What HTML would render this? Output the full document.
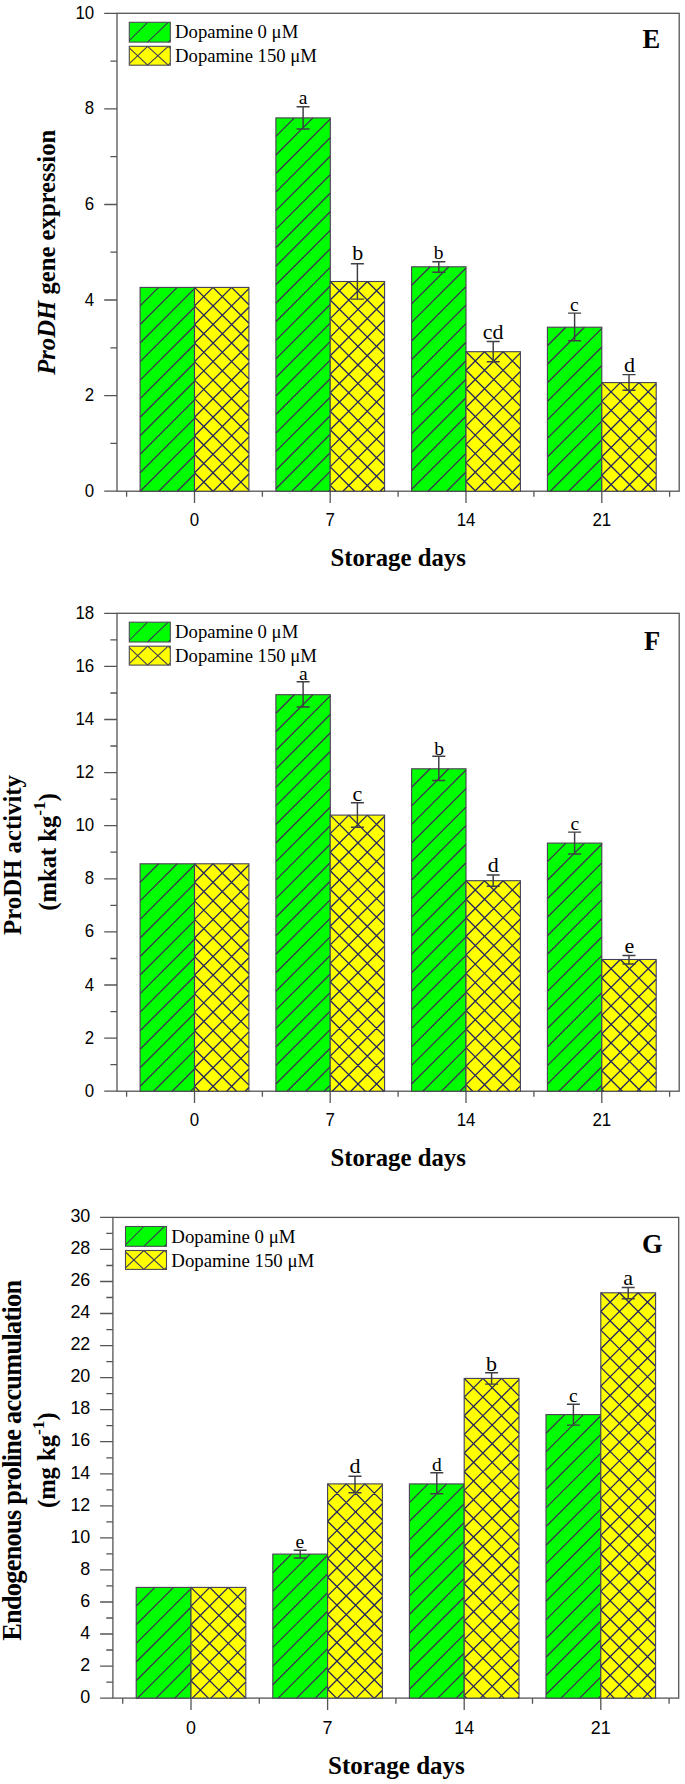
<!DOCTYPE html>
<html><head><meta charset="utf-8"><title>Figure</title>
<style>
html,body{margin:0;padding:0;background:#fff;}
body{width:685px;height:1784px;overflow:hidden;}
svg{display:block;}
text{font-family:"Liberation Serif",serif;fill:#000;}
.tl{font-family:"Liberation Sans",sans-serif;font-size:19.05px;}
.lg{font-size:18.7px;}
.lt{font-size:19.5px;text-anchor:middle;}
.pl{font-size:26.5px;font-weight:bold;}
.at{font-size:24.6px;font-weight:bold;}
</style></head><body>
<svg width="685" height="1784" viewBox="0 0 685 1784">
<rect width="685" height="1784" fill="#fff"/>
<rect x="117.0" y="13.3" width="562.2" height="477.9" fill="none" stroke="#555555" stroke-width="1.3"/>
<text transform="translate(94.2 496.7) scale(0.885 1)" class="tl" text-anchor="end">0</text>
<text transform="translate(94.2 401.1) scale(0.885 1)" class="tl" text-anchor="end">2</text>
<text transform="translate(94.2 305.5) scale(0.885 1)" class="tl" text-anchor="end">4</text>
<text transform="translate(94.2 210.0) scale(0.885 1)" class="tl" text-anchor="end">6</text>
<text transform="translate(94.2 114.4) scale(0.885 1)" class="tl" text-anchor="end">8</text>
<text transform="translate(94.2 18.8) scale(0.885 1)" class="tl" text-anchor="end">10</text>
<text transform="translate(194.5 526.3) scale(0.885 1)" class="tl" text-anchor="middle">0</text>
<text transform="translate(330.2 526.3) scale(0.885 1)" class="tl" text-anchor="middle">7</text>
<text transform="translate(466.0 526.3) scale(0.885 1)" class="tl" text-anchor="middle">14</text>
<text transform="translate(601.8 526.3) scale(0.885 1)" class="tl" text-anchor="middle">21</text>
<path d="M104.2 491.2H117.0M110.4 443.4H117.0M104.2 395.6H117.0M110.4 347.8H117.0M104.2 300.0H117.0M110.4 252.2H117.0M104.2 204.5H117.0M110.4 156.7H117.0M104.2 108.9H117.0M110.4 61.1H117.0M104.2 13.3H117.0M194.5 491.2V503.0M330.2 491.2V503.0M466.0 491.2V503.0M601.8 491.2V503.0M126.6 491.2V496.8M262.4 491.2V496.8M398.1 491.2V496.8M533.9 491.2V496.8M669.6 491.2V496.8" stroke="#555555" stroke-width="1.3" fill="none"/>
<rect x="140.1" y="287.4" width="54.4" height="203.8" fill="#00ff00"/>
<path d="M140.1 305.9L158.6 287.4M140.1 324.5L177.2 287.4M140.1 343.0L194.5 288.6M140.1 361.6L194.5 307.2M140.1 380.1L194.5 325.7M140.1 398.6L194.5 344.2M140.1 417.2L194.5 362.8M140.1 435.7L194.5 381.3M140.1 454.3L194.5 399.9M140.1 472.8L194.5 418.4M140.2 491.2L194.5 436.9M158.8 491.2L194.5 455.5M177.3 491.2L194.5 474.0" stroke="#412f54" stroke-width="1.3" fill="none"/>
<rect x="140.1" y="287.4" width="54.4" height="203.8" fill="none" stroke="#4b3d55" stroke-width="1.1"/>
<rect x="194.5" y="287.4" width="54.4" height="203.8" fill="#ffff00"/>
<path d="M194.5 305.9L213.0 287.4M194.5 324.5L231.6 287.4M194.5 343.0L248.9 288.6M194.5 361.6L248.9 307.2M194.5 380.1L248.9 325.7M194.5 398.6L248.9 344.2M194.5 417.2L248.9 362.8M194.5 435.7L248.9 381.3M194.5 454.3L248.9 399.9M194.5 472.8L248.9 418.4M194.6 491.2L248.9 436.9M213.2 491.2L248.9 455.5M231.7 491.2L248.9 474.0M194.5 472.8L212.9 491.2M194.5 454.3L231.4 491.2M194.5 435.7L248.9 490.1M194.5 417.2L248.9 471.6M194.5 398.6L248.9 453.0M194.5 380.1L248.9 434.5M194.5 361.6L248.9 416.0M194.5 343.0L248.9 397.4M194.5 324.5L248.9 378.9M194.5 305.9L248.9 360.3M194.5 287.4L248.9 341.8M213.0 287.4L248.9 323.3M231.6 287.4L248.9 304.7" stroke="#24245f" stroke-width="1.3" fill="none"/>
<rect x="194.5" y="287.4" width="54.4" height="203.8" fill="none" stroke="#3f3f5c" stroke-width="1.1"/>
<rect x="275.9" y="117.9" width="54.4" height="373.3" fill="#00ff00"/>
<path d="M275.9 136.4L294.4 117.9M275.9 155.0L312.9 117.9M275.9 173.5L330.2 119.1M275.9 192.1L330.2 137.7M275.9 210.6L330.2 156.2M275.9 229.1L330.2 174.7M275.9 247.7L330.2 193.3M275.9 266.2L330.2 211.8M275.9 284.8L330.2 230.4M275.9 303.3L330.2 248.9M275.9 321.8L330.2 267.4M275.9 340.4L330.2 286.0M275.9 358.9L330.2 304.5M275.9 377.5L330.2 323.1M275.9 396.0L330.2 341.6M275.9 414.5L330.2 360.1M275.9 433.1L330.2 378.7M275.9 451.6L330.2 397.2M275.9 470.2L330.2 415.8M275.9 488.7L330.2 434.3M291.9 491.2L330.2 452.8M310.4 491.2L330.2 471.4M329.0 491.2L330.2 489.9" stroke="#412f54" stroke-width="1.3" fill="none"/>
<rect x="275.9" y="117.9" width="54.4" height="373.3" fill="none" stroke="#4b3d55" stroke-width="1.1"/>
<rect x="330.2" y="281.5" width="54.4" height="209.7" fill="#ffff00"/>
<path d="M330.2 300.0L348.8 281.5M330.2 318.6L367.3 281.5M330.2 337.1L384.6 282.7M330.2 355.7L384.6 301.3M330.2 374.2L384.6 319.8M330.2 392.7L384.6 338.3M330.2 411.3L384.6 356.9M330.2 429.8L384.6 375.4M330.2 448.4L384.6 394.0M330.2 466.9L384.6 412.5M330.2 485.4L384.6 431.0M343.0 491.2L384.6 449.6M361.6 491.2L384.6 468.1M380.1 491.2L384.6 486.7M330.2 485.4L336.0 491.2M330.2 466.9L354.6 491.2M330.2 448.4L373.1 491.2M330.2 429.8L384.6 484.2M330.2 411.3L384.6 465.7M330.2 392.7L384.6 447.1M330.2 374.2L384.6 428.6M330.2 355.7L384.6 410.1M330.2 337.1L384.6 391.5M330.2 318.6L384.6 373.0M330.2 300.0L384.6 354.4M330.2 281.5L384.6 335.9M348.8 281.5L384.6 317.4M367.3 281.5L384.6 298.8" stroke="#24245f" stroke-width="1.3" fill="none"/>
<rect x="330.2" y="281.5" width="54.4" height="209.7" fill="none" stroke="#3f3f5c" stroke-width="1.1"/>
<rect x="411.6" y="266.8" width="54.4" height="224.4" fill="#00ff00"/>
<path d="M411.6 285.3L430.1 266.8M411.6 303.9L448.7 266.8M411.6 322.4L466.0 268.0M411.6 341.0L466.0 286.6M411.6 359.5L466.0 305.1M411.6 378.0L466.0 323.6M411.6 396.6L466.0 342.2M411.6 415.1L466.0 360.7M411.6 433.7L466.0 379.3M411.6 452.2L466.0 397.8M411.6 470.7L466.0 416.3M411.6 489.3L466.0 434.9M428.2 491.2L466.0 453.4M446.8 491.2L466.0 472.0M465.3 491.2L466.0 490.5" stroke="#412f54" stroke-width="1.3" fill="none"/>
<rect x="411.6" y="266.8" width="54.4" height="224.4" fill="none" stroke="#4b3d55" stroke-width="1.1"/>
<rect x="466.0" y="351.7" width="54.4" height="139.5" fill="#ffff00"/>
<path d="M466.0 370.2L484.5 351.7M466.0 388.8L503.1 351.7M466.0 407.3L520.4 352.9M466.0 425.9L520.4 371.5M466.0 444.4L520.4 390.0M466.0 462.9L520.4 408.5M466.0 481.5L520.4 427.1M474.8 491.2L520.4 445.6M493.4 491.2L520.4 464.2M511.9 491.2L520.4 482.7M466.0 481.5L475.7 491.2M466.0 462.9L494.3 491.2M466.0 444.4L512.8 491.2M466.0 425.9L520.4 480.3M466.0 407.3L520.4 461.7M466.0 388.8L520.4 443.2M466.0 370.2L520.4 424.6M466.0 351.7L520.4 406.1M484.5 351.7L520.4 387.6M503.1 351.7L520.4 369.0" stroke="#24245f" stroke-width="1.3" fill="none"/>
<rect x="466.0" y="351.7" width="54.4" height="139.5" fill="none" stroke="#3f3f5c" stroke-width="1.1"/>
<rect x="547.4" y="327.2" width="54.4" height="164.0" fill="#00ff00"/>
<path d="M547.4 345.7L565.9 327.2M547.4 364.3L584.5 327.2M547.4 382.8L601.8 328.4M547.4 401.4L601.8 347.0M547.4 419.9L601.8 365.5M547.4 438.4L601.8 384.0M547.4 457.0L601.8 402.6M547.4 475.5L601.8 421.1M550.3 491.2L601.8 439.7M568.8 491.2L601.8 458.2M587.3 491.2L601.8 476.7" stroke="#412f54" stroke-width="1.3" fill="none"/>
<rect x="547.4" y="327.2" width="54.4" height="164.0" fill="none" stroke="#4b3d55" stroke-width="1.1"/>
<rect x="601.8" y="382.6" width="54.4" height="108.6" fill="#ffff00"/>
<path d="M601.8 401.1L620.3 382.6M601.8 419.7L638.9 382.6M601.8 438.2L656.2 383.8M601.8 456.8L656.2 402.4M601.8 475.3L656.2 420.9M604.4 491.2L656.2 439.4M623.0 491.2L656.2 458.0M641.5 491.2L656.2 476.5M601.8 475.3L617.7 491.2M601.8 456.8L636.2 491.2M601.8 438.2L654.8 491.2M601.8 419.7L656.2 474.1M601.8 401.1L656.2 455.5M601.8 382.6L656.2 437.0M620.3 382.6L656.2 418.5M638.9 382.6L656.2 399.9" stroke="#24245f" stroke-width="1.3" fill="none"/>
<rect x="601.8" y="382.6" width="54.4" height="108.6" fill="none" stroke="#3f3f5c" stroke-width="1.1"/>
<path d="M303.1 106.8V129.0" stroke="#3c3c42" stroke-width="1.45" fill="none"/>
<path d="M296.6 106.8H309.6M296.6 129.0H309.6" stroke="#3e3e44" stroke-width="1.45" fill="none"/>
<text x="303.2" y="104.4" class="lt">a</text>
<path d="M357.4 263.7V299.1" stroke="#3c3c42" stroke-width="1.45" fill="none"/>
<path d="M350.9 263.7H363.9M350.9 299.1H363.9" stroke="#3e3e44" stroke-width="1.45" fill="none"/>
<text x="357.8" y="260.3" class="lt" style="font-size:22px">b</text>
<path d="M438.8 261.7V272.3" stroke="#3c3c42" stroke-width="1.45" fill="none"/>
<path d="M432.3 261.7H445.3M432.3 272.3H445.3" stroke="#3e3e44" stroke-width="1.45" fill="none"/>
<text x="438.5" y="258.7" class="lt">b</text>
<path d="M493.2 341.5V361.7" stroke="#3c3c42" stroke-width="1.45" fill="none"/>
<path d="M486.7 341.5H499.7M486.7 361.7H499.7" stroke="#3e3e44" stroke-width="1.45" fill="none"/>
<text x="493.2" y="338.7" class="lt" style="font-size:22px">cd</text>
<path d="M574.6 313.1V340.7" stroke="#3c3c42" stroke-width="1.45" fill="none"/>
<path d="M568.1 313.1H581.1M568.1 340.7H581.1" stroke="#3e3e44" stroke-width="1.45" fill="none"/>
<text x="574.4" y="311.3" class="lt">c</text>
<path d="M629.0 374.6V390.3" stroke="#3c3c42" stroke-width="1.45" fill="none"/>
<path d="M622.5 374.6H635.5M622.5 390.3H635.5" stroke="#3e3e44" stroke-width="1.45" fill="none"/>
<text x="629.4" y="371.6" class="lt" style="font-size:22px">d</text>
<rect x="129.3" y="22.3" width="41" height="19.8" fill="#00ff00"/>
<path d="M129.3 40.6L147.6 22.3M147.6 42.1L168.2 22.3M168.2 42.1L170.3 40.0" stroke="#3b3858" stroke-width="1.05" fill="none"/>
<rect x="129.3" y="22.3" width="41" height="19.8" fill="none" stroke="#4a4a55" stroke-width="1.1"/>
<text x="175.1" y="38.3" class="lg" style="font-size:18.70px">Dopamine 0 μM</text>
<rect x="129.3" y="46.3" width="41" height="18.9" fill="#ffff00"/>
<path d="M129.3 63.7L147.6 46.3M147.6 65.2L168.2 46.3M168.2 65.2L170.3 63.1M129.3 47.8L147.6 65.2M147.6 46.3L168.2 65.2M168.2 46.3L170.3 48.4" stroke="#3b3858" stroke-width="1.05" fill="none"/>
<rect x="129.3" y="46.3" width="41" height="18.9" fill="none" stroke="#4a4a55" stroke-width="1.1"/>
<text x="175.1" y="62.3" class="lg" style="font-size:18.70px">Dopamine 150 μM</text>
<text x="651.3" y="47.8" class="pl" text-anchor="middle">E</text>
<text x="398.1" y="565.7" class="at" text-anchor="middle" style="font-size:24.75px">Storage days</text>
<text transform="translate(54.50 252.30) rotate(-90)" class="at" text-anchor="middle" style="font-size:24.7px"><tspan font-style="italic">ProDH</tspan> gene expression</text>
<rect x="117.0" y="613.3" width="562.2" height="477.9" fill="none" stroke="#555555" stroke-width="1.3"/>
<text transform="translate(94.2 1096.7) scale(0.885 1)" class="tl" text-anchor="end">0</text>
<text transform="translate(94.2 1043.6) scale(0.885 1)" class="tl" text-anchor="end">2</text>
<text transform="translate(94.2 990.5) scale(0.885 1)" class="tl" text-anchor="end">4</text>
<text transform="translate(94.2 937.4) scale(0.885 1)" class="tl" text-anchor="end">6</text>
<text transform="translate(94.2 884.3) scale(0.885 1)" class="tl" text-anchor="end">8</text>
<text transform="translate(94.2 831.2) scale(0.885 1)" class="tl" text-anchor="end">10</text>
<text transform="translate(94.2 778.1) scale(0.885 1)" class="tl" text-anchor="end">12</text>
<text transform="translate(94.2 725.0) scale(0.885 1)" class="tl" text-anchor="end">14</text>
<text transform="translate(94.2 671.9) scale(0.885 1)" class="tl" text-anchor="end">16</text>
<text transform="translate(94.2 618.8) scale(0.885 1)" class="tl" text-anchor="end">18</text>
<text transform="translate(194.5 1126.3) scale(0.885 1)" class="tl" text-anchor="middle">0</text>
<text transform="translate(330.2 1126.3) scale(0.885 1)" class="tl" text-anchor="middle">7</text>
<text transform="translate(466.0 1126.3) scale(0.885 1)" class="tl" text-anchor="middle">14</text>
<text transform="translate(601.8 1126.3) scale(0.885 1)" class="tl" text-anchor="middle">21</text>
<path d="M104.2 1091.2H117.0M110.4 1064.7H117.0M104.2 1038.1H117.0M110.4 1011.6H117.0M104.2 985.0H117.0M110.4 958.5H117.0M104.2 931.9H117.0M110.4 905.4H117.0M104.2 878.8H117.0M110.4 852.2H117.0M104.2 825.7H117.0M110.4 799.2H117.0M104.2 772.6H117.0M110.4 746.0H117.0M104.2 719.5H117.0M110.4 693.0H117.0M104.2 666.4H117.0M110.4 639.9H117.0M104.2 613.3H117.0M194.5 1091.2V1103.0M330.2 1091.2V1103.0M466.0 1091.2V1103.0M601.8 1091.2V1103.0M126.6 1091.2V1096.8M262.4 1091.2V1096.8M398.1 1091.2V1096.8M533.9 1091.2V1096.8M669.6 1091.2V1096.8" stroke="#555555" stroke-width="1.3" fill="none"/>
<rect x="140.1" y="863.8" width="54.4" height="227.4" fill="#00ff00"/>
<path d="M140.1 882.3L158.6 863.8M140.1 900.9L177.2 863.8M140.1 919.4L194.5 865.0M140.1 938.0L194.5 883.6M140.1 956.5L194.5 902.1M140.1 975.0L194.5 920.6M140.1 993.6L194.5 939.2M140.1 1012.1L194.5 957.7M140.1 1030.7L194.5 976.3M140.1 1049.2L194.5 994.8M140.1 1067.7L194.5 1013.3M140.1 1086.3L194.5 1031.9M153.7 1091.2L194.5 1050.4M172.3 1091.2L194.5 1069.0M190.8 1091.2L194.5 1087.5" stroke="#412f54" stroke-width="1.3" fill="none"/>
<rect x="140.1" y="863.8" width="54.4" height="227.4" fill="none" stroke="#4b3d55" stroke-width="1.1"/>
<rect x="194.5" y="863.8" width="54.4" height="227.4" fill="#ffff00"/>
<path d="M194.5 882.3L213.0 863.8M194.5 900.9L231.6 863.8M194.5 919.4L248.9 865.0M194.5 938.0L248.9 883.6M194.5 956.5L248.9 902.1M194.5 975.0L248.9 920.6M194.5 993.6L248.9 939.2M194.5 1012.1L248.9 957.7M194.5 1030.7L248.9 976.3M194.5 1049.2L248.9 994.8M194.5 1067.7L248.9 1013.3M194.5 1086.3L248.9 1031.9M208.1 1091.2L248.9 1050.4M226.7 1091.2L248.9 1069.0M245.2 1091.2L248.9 1087.5M194.5 1086.3L199.4 1091.2M194.5 1067.7L218.0 1091.2M194.5 1049.2L236.5 1091.2M194.5 1030.7L248.9 1085.1M194.5 1012.1L248.9 1066.5M194.5 993.6L248.9 1048.0M194.5 975.0L248.9 1029.4M194.5 956.5L248.9 1010.9M194.5 938.0L248.9 992.4M194.5 919.4L248.9 973.8M194.5 900.9L248.9 955.3M194.5 882.3L248.9 936.7M194.5 863.8L248.9 918.2M213.0 863.8L248.9 899.7M231.6 863.8L248.9 881.1" stroke="#24245f" stroke-width="1.3" fill="none"/>
<rect x="194.5" y="863.8" width="54.4" height="227.4" fill="none" stroke="#3f3f5c" stroke-width="1.1"/>
<rect x="275.9" y="694.7" width="54.4" height="396.5" fill="#00ff00"/>
<path d="M275.9 713.2L294.4 694.7M275.9 731.8L312.9 694.7M275.9 750.3L330.2 695.9M275.9 768.9L330.2 714.5M275.9 787.4L330.2 733.0M275.9 805.9L330.2 751.5M275.9 824.5L330.2 770.1M275.9 843.0L330.2 788.6M275.9 861.6L330.2 807.2M275.9 880.1L330.2 825.7M275.9 898.6L330.2 844.2M275.9 917.2L330.2 862.8M275.9 935.7L330.2 881.3M275.9 954.3L330.2 899.9M275.9 972.8L330.2 918.4M275.9 991.3L330.2 936.9M275.9 1009.9L330.2 955.5M275.9 1028.4L330.2 974.0M275.9 1047.0L330.2 992.6M275.9 1065.5L330.2 1011.1M275.9 1084.0L330.2 1029.6M287.2 1091.2L330.2 1048.2M305.8 1091.2L330.2 1066.7M324.3 1091.2L330.2 1085.3" stroke="#412f54" stroke-width="1.3" fill="none"/>
<rect x="275.9" y="694.7" width="54.4" height="396.5" fill="none" stroke="#4b3d55" stroke-width="1.1"/>
<rect x="330.2" y="815.1" width="54.4" height="276.1" fill="#ffff00"/>
<path d="M330.2 833.6L348.8 815.1M330.2 852.2L367.3 815.1M330.2 870.7L384.6 816.3M330.2 889.3L384.6 834.9M330.2 907.8L384.6 853.4M330.2 926.3L384.6 871.9M330.2 944.9L384.6 890.5M330.2 963.4L384.6 909.0M330.2 982.0L384.6 927.6M330.2 1000.5L384.6 946.1M330.2 1019.0L384.6 964.6M330.2 1037.6L384.6 983.2M330.2 1056.1L384.6 1001.7M330.2 1074.7L384.6 1020.3M332.2 1091.2L384.6 1038.8M350.8 1091.2L384.6 1057.3M369.3 1091.2L384.6 1075.9M330.2 1074.7L346.8 1091.2M330.2 1056.1L365.3 1091.2M330.2 1037.6L383.9 1091.2M330.2 1019.0L384.6 1073.4M330.2 1000.5L384.6 1054.9M330.2 982.0L384.6 1036.4M330.2 963.4L384.6 1017.8M330.2 944.9L384.6 999.3M330.2 926.3L384.6 980.7M330.2 907.8L384.6 962.2M330.2 889.3L384.6 943.7M330.2 870.7L384.6 925.1M330.2 852.2L384.6 906.6M330.2 833.6L384.6 888.0M330.2 815.1L384.6 869.5M348.8 815.1L384.6 851.0M367.3 815.1L384.6 832.4" stroke="#24245f" stroke-width="1.3" fill="none"/>
<rect x="330.2" y="815.1" width="54.4" height="276.1" fill="none" stroke="#3f3f5c" stroke-width="1.1"/>
<rect x="411.6" y="768.8" width="54.4" height="322.4" fill="#00ff00"/>
<path d="M411.6 787.3L430.1 768.8M411.6 805.9L448.7 768.8M411.6 824.4L466.0 770.0M411.6 843.0L466.0 788.6M411.6 861.5L466.0 807.1M411.6 880.0L466.0 825.6M411.6 898.6L466.0 844.2M411.6 917.1L466.0 862.7M411.6 935.7L466.0 881.3M411.6 954.2L466.0 899.8M411.6 972.7L466.0 918.3M411.6 991.3L466.0 936.9M411.6 1009.8L466.0 955.4M411.6 1028.4L466.0 974.0M411.6 1046.9L466.0 992.5M411.6 1065.4L466.0 1011.0M411.6 1084.0L466.0 1029.6M422.9 1091.2L466.0 1048.1M441.5 1091.2L466.0 1066.7M460.0 1091.2L466.0 1085.2" stroke="#412f54" stroke-width="1.3" fill="none"/>
<rect x="411.6" y="768.8" width="54.4" height="322.4" fill="none" stroke="#4b3d55" stroke-width="1.1"/>
<rect x="466.0" y="880.7" width="54.4" height="210.5" fill="#ffff00"/>
<path d="M466.0 899.2L484.5 880.7M466.0 917.8L503.1 880.7M466.0 936.3L520.4 881.9M466.0 954.9L520.4 900.5M466.0 973.4L520.4 919.0M466.0 991.9L520.4 937.5M466.0 1010.5L520.4 956.1M466.0 1029.0L520.4 974.6M466.0 1047.6L520.4 993.2M466.0 1066.1L520.4 1011.7M466.0 1084.6L520.4 1030.2M478.0 1091.2L520.4 1048.8M496.5 1091.2L520.4 1067.3M515.1 1091.2L520.4 1085.9M466.0 1084.6L472.6 1091.2M466.0 1066.1L491.1 1091.2M466.0 1047.6L509.6 1091.2M466.0 1029.0L520.4 1083.4M466.0 1010.5L520.4 1064.9M466.0 991.9L520.4 1046.3M466.0 973.4L520.4 1027.8M466.0 954.9L520.4 1009.3M466.0 936.3L520.4 990.7M466.0 917.8L520.4 972.2M466.0 899.2L520.4 953.6M466.0 880.7L520.4 935.1M484.5 880.7L520.4 916.6M503.1 880.7L520.4 898.0" stroke="#24245f" stroke-width="1.3" fill="none"/>
<rect x="466.0" y="880.7" width="54.4" height="210.5" fill="none" stroke="#3f3f5c" stroke-width="1.1"/>
<rect x="547.4" y="843.1" width="54.4" height="248.1" fill="#00ff00"/>
<path d="M547.4 861.6L565.9 843.1M547.4 880.2L584.5 843.1M547.4 898.7L601.8 844.3M547.4 917.3L601.8 862.9M547.4 935.8L601.8 881.4M547.4 954.3L601.8 899.9M547.4 972.9L601.8 918.5M547.4 991.4L601.8 937.0M547.4 1010.0L601.8 955.6M547.4 1028.5L601.8 974.1M547.4 1047.0L601.8 992.6M547.4 1065.6L601.8 1011.2M547.4 1084.1L601.8 1029.7M558.9 1091.2L601.8 1048.3M577.4 1091.2L601.8 1066.8M595.9 1091.2L601.8 1085.3" stroke="#412f54" stroke-width="1.3" fill="none"/>
<rect x="547.4" y="843.1" width="54.4" height="248.1" fill="none" stroke="#4b3d55" stroke-width="1.1"/>
<rect x="601.8" y="959.5" width="54.4" height="131.7" fill="#ffff00"/>
<path d="M601.8 978.0L620.3 959.5M601.8 996.6L638.9 959.5M601.8 1015.1L656.2 960.7M601.8 1033.7L656.2 979.3M601.8 1052.2L656.2 997.8M601.8 1070.7L656.2 1016.3M601.8 1089.3L656.2 1034.9M618.4 1091.2L656.2 1053.4M637.0 1091.2L656.2 1072.0M655.5 1091.2L656.2 1090.5M601.8 1089.3L603.7 1091.2M601.8 1070.7L622.3 1091.2M601.8 1052.2L640.8 1091.2M601.8 1033.7L656.2 1088.1M601.8 1015.1L656.2 1069.5M601.8 996.6L656.2 1051.0M601.8 978.0L656.2 1032.4M601.8 959.5L656.2 1013.9M620.3 959.5L656.2 995.4M638.9 959.5L656.2 976.8" stroke="#24245f" stroke-width="1.3" fill="none"/>
<rect x="601.8" y="959.5" width="54.4" height="131.7" fill="none" stroke="#3f3f5c" stroke-width="1.1"/>
<path d="M303.1 681.7V707.0" stroke="#3c3c42" stroke-width="1.45" fill="none"/>
<path d="M296.6 681.7H309.6M296.6 707.0H309.6" stroke="#3e3e44" stroke-width="1.45" fill="none"/>
<text x="303.4" y="679.9" class="lt">a</text>
<path d="M357.4 802.8V827.3" stroke="#3c3c42" stroke-width="1.45" fill="none"/>
<path d="M350.9 802.8H363.9M350.9 827.3H363.9" stroke="#3e3e44" stroke-width="1.45" fill="none"/>
<text x="357.4" y="800.9" class="lt" style="font-size:22px">c</text>
<path d="M438.8 756.3V780.5" stroke="#3c3c42" stroke-width="1.45" fill="none"/>
<path d="M432.3 756.3H445.3M432.3 780.5H445.3" stroke="#3e3e44" stroke-width="1.45" fill="none"/>
<text x="439.1" y="754.8" class="lt">b</text>
<path d="M493.2 875.0V886.2" stroke="#3c3c42" stroke-width="1.45" fill="none"/>
<path d="M486.7 875.0H499.7M486.7 886.2H499.7" stroke="#3e3e44" stroke-width="1.45" fill="none"/>
<text x="493.2" y="871.9" class="lt" style="font-size:22px">d</text>
<path d="M574.6 832.1V853.9" stroke="#3c3c42" stroke-width="1.45" fill="none"/>
<path d="M568.1 832.1H581.1M568.1 853.9H581.1" stroke="#3e3e44" stroke-width="1.45" fill="none"/>
<text x="574.8" y="830.2" class="lt">c</text>
<path d="M629.0 955.4V964.0" stroke="#3c3c42" stroke-width="1.45" fill="none"/>
<path d="M622.5 955.4H635.5M622.5 964.0H635.5" stroke="#3e3e44" stroke-width="1.45" fill="none"/>
<text x="629.4" y="953.2" class="lt" style="font-size:22px">e</text>
<rect x="129.3" y="622.2" width="41" height="19.8" fill="#00ff00"/>
<path d="M129.3 640.5L147.6 622.2M147.6 642.0L168.2 622.2M168.2 642.0L170.3 639.9" stroke="#3b3858" stroke-width="1.05" fill="none"/>
<rect x="129.3" y="622.2" width="41" height="19.8" fill="none" stroke="#4a4a55" stroke-width="1.1"/>
<text x="175.1" y="638.2" class="lg" style="font-size:18.70px">Dopamine 0 μM</text>
<rect x="129.3" y="646.2" width="41" height="18.9" fill="#ffff00"/>
<path d="M129.3 663.6L147.6 646.2M147.6 665.1L168.2 646.2M168.2 665.1L170.3 663.0M129.3 647.7L147.6 665.1M147.6 646.2L168.2 665.1M168.2 646.2L170.3 648.3" stroke="#3b3858" stroke-width="1.05" fill="none"/>
<rect x="129.3" y="646.2" width="41" height="18.9" fill="none" stroke="#4a4a55" stroke-width="1.1"/>
<text x="175.1" y="662.2" class="lg" style="font-size:18.70px">Dopamine 150 μM</text>
<text x="652.0" y="650.1" class="pl" text-anchor="middle">F</text>
<text x="398.1" y="1165.7" class="at" text-anchor="middle" style="font-size:24.75px">Storage days</text>
<text transform="translate(21.40 855.00) rotate(-90)" class="at" text-anchor="middle" style="font-size:24.77px">ProDH activity</text>
<text transform="translate(56.10 851.90) rotate(-90)" class="at" text-anchor="middle" >(mkat kg<tspan dy="-10.7" font-size="17.3">-1</tspan><tspan dy="10.7">)</tspan></text>
<rect x="112.9" y="1217.4" width="565.8" height="480.7" fill="none" stroke="#555555" stroke-width="1.3"/>
<text transform="translate(90.3 1702.8) scale(0.940 1)" class="tl" text-anchor="end">0</text>
<text transform="translate(90.3 1670.8) scale(0.940 1)" class="tl" text-anchor="end">2</text>
<text transform="translate(90.3 1638.7) scale(0.940 1)" class="tl" text-anchor="end">4</text>
<text transform="translate(90.3 1606.7) scale(0.940 1)" class="tl" text-anchor="end">6</text>
<text transform="translate(90.3 1574.6) scale(0.940 1)" class="tl" text-anchor="end">8</text>
<text transform="translate(90.3 1542.6) scale(0.940 1)" class="tl" text-anchor="end">10</text>
<text transform="translate(90.3 1510.5) scale(0.940 1)" class="tl" text-anchor="end">12</text>
<text transform="translate(90.3 1478.5) scale(0.940 1)" class="tl" text-anchor="end">14</text>
<text transform="translate(90.3 1446.4) scale(0.940 1)" class="tl" text-anchor="end">16</text>
<text transform="translate(90.3 1414.4) scale(0.940 1)" class="tl" text-anchor="end">18</text>
<text transform="translate(90.3 1382.3) scale(0.940 1)" class="tl" text-anchor="end">20</text>
<text transform="translate(90.3 1350.3) scale(0.940 1)" class="tl" text-anchor="end">22</text>
<text transform="translate(90.3 1318.2) scale(0.940 1)" class="tl" text-anchor="end">24</text>
<text transform="translate(90.3 1286.2) scale(0.940 1)" class="tl" text-anchor="end">26</text>
<text transform="translate(90.3 1254.1) scale(0.940 1)" class="tl" text-anchor="end">28</text>
<text transform="translate(90.3 1222.1) scale(0.940 1)" class="tl" text-anchor="end">30</text>
<text transform="translate(191.0 1734.2) scale(0.940 1)" class="tl" text-anchor="middle">0</text>
<text transform="translate(327.6 1734.2) scale(0.940 1)" class="tl" text-anchor="middle">7</text>
<text transform="translate(464.2 1734.2) scale(0.940 1)" class="tl" text-anchor="middle">14</text>
<text transform="translate(600.8 1734.2) scale(0.940 1)" class="tl" text-anchor="middle">21</text>
<path d="M100.1 1698.1H112.9M106.3 1682.1H112.9M100.1 1666.1H112.9M106.3 1650.0H112.9M100.1 1634.0H112.9M106.3 1618.0H112.9M100.1 1602.0H112.9M106.3 1585.9H112.9M100.1 1569.9H112.9M106.3 1553.9H112.9M100.1 1537.9H112.9M106.3 1521.8H112.9M100.1 1505.8H112.9M106.3 1489.8H112.9M100.1 1473.8H112.9M106.3 1457.8H112.9M100.1 1441.7H112.9M106.3 1425.7H112.9M100.1 1409.7H112.9M106.3 1393.7H112.9M100.1 1377.6H112.9M106.3 1361.6H112.9M100.1 1345.6H112.9M106.3 1329.6H112.9M100.1 1313.5H112.9M106.3 1297.5H112.9M100.1 1281.5H112.9M106.3 1265.5H112.9M100.1 1249.4H112.9M106.3 1233.4H112.9M100.1 1217.4H112.9M191.0 1698.1V1709.9M327.6 1698.1V1709.9M464.2 1698.1V1709.9M600.8 1698.1V1709.9M122.7 1698.1V1703.7M259.3 1698.1V1703.7M395.9 1698.1V1703.7M532.5 1698.1V1703.7M669.1 1698.1V1703.7" stroke="#555555" stroke-width="1.3" fill="none"/>
<rect x="136.2" y="1587.4" width="54.8" height="110.7" fill="#00ff00"/>
<path d="M136.2 1606.1L154.9 1587.4M136.2 1624.7L173.5 1587.4M136.2 1643.4L191.0 1588.6M136.2 1662.0L191.0 1607.2M136.2 1680.7L191.0 1625.9M137.5 1698.1L191.0 1644.6M156.1 1698.1L191.0 1663.2M174.8 1698.1L191.0 1681.9" stroke="#412f54" stroke-width="1.3" fill="none"/>
<rect x="136.2" y="1587.4" width="54.8" height="110.7" fill="none" stroke="#4b3d55" stroke-width="1.1"/>
<rect x="191.0" y="1587.4" width="54.8" height="110.7" fill="#ffff00"/>
<path d="M191.0 1606.1L209.7 1587.4M191.0 1624.7L228.3 1587.4M191.0 1643.4L245.8 1588.6M191.0 1662.0L245.8 1607.2M191.0 1680.7L245.8 1625.9M192.3 1698.1L245.8 1644.6M210.9 1698.1L245.8 1663.2M229.6 1698.1L245.8 1681.9M191.0 1680.7L208.4 1698.1M191.0 1662.0L227.1 1698.1M191.0 1643.4L245.7 1698.1M191.0 1624.7L245.8 1679.5M191.0 1606.1L245.8 1660.9M191.0 1587.4L245.8 1642.2M209.7 1587.4L245.8 1623.5M228.3 1587.4L245.8 1604.9" stroke="#24245f" stroke-width="1.3" fill="none"/>
<rect x="191.0" y="1587.4" width="54.8" height="110.7" fill="none" stroke="#3f3f5c" stroke-width="1.1"/>
<rect x="272.8" y="1554.1" width="54.8" height="144.0" fill="#00ff00"/>
<path d="M272.8 1572.8L291.5 1554.1M272.8 1591.4L310.1 1554.1M272.8 1610.1L327.6 1555.3M272.8 1628.7L327.6 1573.9M272.8 1647.4L327.6 1592.6M272.8 1666.1L327.6 1611.3M272.8 1684.7L327.6 1629.9M278.1 1698.1L327.6 1648.6M296.7 1698.1L327.6 1667.2M315.4 1698.1L327.6 1685.9" stroke="#412f54" stroke-width="1.3" fill="none"/>
<rect x="272.8" y="1554.1" width="54.8" height="144.0" fill="none" stroke="#4b3d55" stroke-width="1.1"/>
<rect x="327.6" y="1483.9" width="54.8" height="214.2" fill="#ffff00"/>
<path d="M327.6 1502.6L346.3 1483.9M327.6 1521.2L364.9 1483.9M327.6 1539.9L382.4 1485.1M327.6 1558.5L382.4 1503.7M327.6 1577.2L382.4 1522.4M327.6 1595.9L382.4 1541.1M327.6 1614.5L382.4 1559.7M327.6 1633.2L382.4 1578.4M327.6 1651.8L382.4 1597.0M327.6 1670.5L382.4 1615.7M327.6 1689.2L382.4 1634.4M337.3 1698.1L382.4 1653.0M356.0 1698.1L382.4 1671.7M374.6 1698.1L382.4 1690.3M327.6 1689.2L336.5 1698.1M327.6 1670.5L355.2 1698.1M327.6 1651.8L373.9 1698.1M327.6 1633.2L382.4 1688.0M327.6 1614.5L382.4 1669.3M327.6 1595.9L382.4 1650.7M327.6 1577.2L382.4 1632.0M327.6 1558.5L382.4 1613.3M327.6 1539.9L382.4 1594.7M327.6 1521.2L382.4 1576.0M327.6 1502.6L382.4 1557.4M327.6 1483.9L382.4 1538.7M346.3 1483.9L382.4 1520.0M364.9 1483.9L382.4 1501.4" stroke="#24245f" stroke-width="1.3" fill="none"/>
<rect x="327.6" y="1483.9" width="54.8" height="214.2" fill="none" stroke="#3f3f5c" stroke-width="1.1"/>
<rect x="409.4" y="1483.9" width="54.8" height="214.2" fill="#00ff00"/>
<path d="M409.4 1502.6L428.1 1483.9M409.4 1521.2L446.7 1483.9M409.4 1539.9L464.2 1485.1M409.4 1558.5L464.2 1503.7M409.4 1577.2L464.2 1522.4M409.4 1595.9L464.2 1541.1M409.4 1614.5L464.2 1559.7M409.4 1633.2L464.2 1578.4M409.4 1651.8L464.2 1597.0M409.4 1670.5L464.2 1615.7M409.4 1689.2L464.2 1634.4M419.1 1698.1L464.2 1653.0M437.8 1698.1L464.2 1671.7M456.4 1698.1L464.2 1690.3" stroke="#412f54" stroke-width="1.3" fill="none"/>
<rect x="409.4" y="1483.9" width="54.8" height="214.2" fill="none" stroke="#4b3d55" stroke-width="1.1"/>
<rect x="464.2" y="1378.4" width="54.8" height="319.7" fill="#ffff00"/>
<path d="M464.2 1397.1L482.9 1378.4M464.2 1415.7L501.5 1378.4M464.2 1434.4L519.0 1379.6M464.2 1453.0L519.0 1398.2M464.2 1471.7L519.0 1416.9M464.2 1490.4L519.0 1435.6M464.2 1509.0L519.0 1454.2M464.2 1527.7L519.0 1472.9M464.2 1546.3L519.0 1491.5M464.2 1565.0L519.0 1510.2M464.2 1583.7L519.0 1528.9M464.2 1602.3L519.0 1547.5M464.2 1621.0L519.0 1566.2M464.2 1639.6L519.0 1584.8M464.2 1658.3L519.0 1603.5M464.2 1677.0L519.0 1622.2M464.2 1695.6L519.0 1640.8M480.4 1698.1L519.0 1659.5M499.0 1698.1L519.0 1678.1M517.7 1698.1L519.0 1696.8M464.2 1695.6L466.7 1698.1M464.2 1677.0L485.3 1698.1M464.2 1658.3L504.0 1698.1M464.2 1639.6L519.0 1694.4M464.2 1621.0L519.0 1675.8M464.2 1602.3L519.0 1657.1M464.2 1583.7L519.0 1638.5M464.2 1565.0L519.0 1619.8M464.2 1546.3L519.0 1601.1M464.2 1527.7L519.0 1582.5M464.2 1509.0L519.0 1563.8M464.2 1490.4L519.0 1545.2M464.2 1471.7L519.0 1526.5M464.2 1453.0L519.0 1507.8M464.2 1434.4L519.0 1489.2M464.2 1415.7L519.0 1470.5M464.2 1397.1L519.0 1451.9M464.2 1378.4L519.0 1433.2M482.9 1378.4L519.0 1414.5M501.5 1378.4L519.0 1395.9" stroke="#24245f" stroke-width="1.3" fill="none"/>
<rect x="464.2" y="1378.4" width="54.8" height="319.7" fill="none" stroke="#3f3f5c" stroke-width="1.1"/>
<rect x="546.0" y="1414.6" width="54.8" height="283.5" fill="#00ff00"/>
<path d="M546.0 1433.3L564.7 1414.6M546.0 1451.9L583.3 1414.6M546.0 1470.6L600.8 1415.8M546.0 1489.2L600.8 1434.4M546.0 1507.9L600.8 1453.1M546.0 1526.6L600.8 1471.8M546.0 1545.2L600.8 1490.4M546.0 1563.9L600.8 1509.1M546.0 1582.5L600.8 1527.7M546.0 1601.2L600.8 1546.4M546.0 1619.9L600.8 1565.1M546.0 1638.5L600.8 1583.7M546.0 1657.2L600.8 1602.4M546.0 1675.8L600.8 1621.0M546.0 1694.5L600.8 1639.7M561.1 1698.1L600.8 1658.4M579.7 1698.1L600.8 1677.0M598.4 1698.1L600.8 1695.7" stroke="#412f54" stroke-width="1.3" fill="none"/>
<rect x="546.0" y="1414.6" width="54.8" height="283.5" fill="none" stroke="#4b3d55" stroke-width="1.1"/>
<rect x="600.8" y="1292.8" width="54.8" height="405.3" fill="#ffff00"/>
<path d="M600.8 1311.5L619.5 1292.8M600.8 1330.1L638.1 1292.8M600.8 1348.8L655.6 1294.0M600.8 1367.4L655.6 1312.6M600.8 1386.1L655.6 1331.3M600.8 1404.8L655.6 1350.0M600.8 1423.4L655.6 1368.6M600.8 1442.1L655.6 1387.3M600.8 1460.7L655.6 1405.9M600.8 1479.4L655.6 1424.6M600.8 1498.1L655.6 1443.3M600.8 1516.7L655.6 1461.9M600.8 1535.4L655.6 1480.6M600.8 1554.0L655.6 1499.2M600.8 1572.7L655.6 1517.9M600.8 1591.4L655.6 1536.6M600.8 1610.0L655.6 1555.2M600.8 1628.7L655.6 1573.9M600.8 1647.3L655.6 1592.5M600.8 1666.0L655.6 1611.2M600.8 1684.7L655.6 1629.9M606.0 1698.1L655.6 1648.5M624.7 1698.1L655.6 1667.2M643.3 1698.1L655.6 1685.8M600.8 1684.7L614.2 1698.1M600.8 1666.0L632.9 1698.1M600.8 1647.3L651.6 1698.1M600.8 1628.7L655.6 1683.5M600.8 1610.0L655.6 1664.8M600.8 1591.4L655.6 1646.2M600.8 1572.7L655.6 1627.5M600.8 1554.0L655.6 1608.8M600.8 1535.4L655.6 1590.2M600.8 1516.7L655.6 1571.5M600.8 1498.1L655.6 1552.9M600.8 1479.4L655.6 1534.2M600.8 1460.7L655.6 1515.5M600.8 1442.1L655.6 1496.9M600.8 1423.4L655.6 1478.2M600.8 1404.8L655.6 1459.6M600.8 1386.1L655.6 1440.9M600.8 1367.4L655.6 1422.2M600.8 1348.8L655.6 1403.6M600.8 1330.1L655.6 1384.9M600.8 1311.5L655.6 1366.3M600.8 1292.8L655.6 1347.6M619.5 1292.8L655.6 1328.9M638.1 1292.8L655.6 1310.3" stroke="#24245f" stroke-width="1.3" fill="none"/>
<rect x="600.8" y="1292.8" width="54.8" height="405.3" fill="none" stroke="#3f3f5c" stroke-width="1.1"/>
<path d="M300.2 1550.2V1558.0" stroke="#3c3c42" stroke-width="1.45" fill="none"/>
<path d="M293.7 1550.2H306.7M293.7 1558.0H306.7" stroke="#3e3e44" stroke-width="1.45" fill="none"/>
<text x="299.9" y="1548.0" class="lt">e</text>
<path d="M355.0 1476.2V1492.7" stroke="#3c3c42" stroke-width="1.45" fill="none"/>
<path d="M348.5 1476.2H361.5M348.5 1492.7H361.5" stroke="#3e3e44" stroke-width="1.45" fill="none"/>
<text x="355.0" y="1472.5" class="lt" style="font-size:22px">d</text>
<path d="M436.8 1472.8V1493.7" stroke="#3c3c42" stroke-width="1.45" fill="none"/>
<path d="M430.3 1472.8H443.3M430.3 1493.7H443.3" stroke="#3e3e44" stroke-width="1.45" fill="none"/>
<text x="436.8" y="1470.5" class="lt">d</text>
<path d="M491.6 1372.7V1384.1" stroke="#3c3c42" stroke-width="1.45" fill="none"/>
<path d="M485.1 1372.7H498.1M485.1 1384.1H498.1" stroke="#3e3e44" stroke-width="1.45" fill="none"/>
<text x="491.6" y="1370.5" class="lt" style="font-size:22px">b</text>
<path d="M573.4 1404.3V1425.1" stroke="#3c3c42" stroke-width="1.45" fill="none"/>
<path d="M566.9 1404.3H579.9M566.9 1425.1H579.9" stroke="#3e3e44" stroke-width="1.45" fill="none"/>
<text x="573.4" y="1402.0" class="lt">c</text>
<path d="M628.2 1287.5V1298.7" stroke="#3c3c42" stroke-width="1.45" fill="none"/>
<path d="M621.7 1287.5H634.7M621.7 1298.7H634.7" stroke="#3e3e44" stroke-width="1.45" fill="none"/>
<text x="628.2" y="1284.8" class="lt" style="font-size:22px">a</text>
<rect x="125.5" y="1226.5" width="41" height="19.8" fill="#00ff00"/>
<path d="M125.5 1244.8L143.8 1226.5M143.8 1246.3L164.4 1226.5M164.4 1246.3L166.5 1244.2" stroke="#3b3858" stroke-width="1.05" fill="none"/>
<rect x="125.5" y="1226.5" width="41" height="19.8" fill="none" stroke="#4a4a55" stroke-width="1.1"/>
<text x="171.3" y="1242.5" class="lg" style="font-size:18.85px">Dopamine 0 μM</text>
<rect x="125.5" y="1250.5" width="41" height="18.9" fill="#ffff00"/>
<path d="M125.5 1267.9L143.8 1250.5M143.8 1269.4L164.4 1250.5M164.4 1269.4L166.5 1267.3M125.5 1252.0L143.8 1269.4M143.8 1250.5L164.4 1269.4M164.4 1250.5L166.5 1252.6" stroke="#3b3858" stroke-width="1.05" fill="none"/>
<rect x="125.5" y="1250.5" width="41" height="18.9" fill="none" stroke="#4a4a55" stroke-width="1.1"/>
<text x="171.3" y="1266.5" class="lg" style="font-size:18.85px">Dopamine 150 μM</text>
<text x="652.4" y="1252.8" class="pl" text-anchor="middle">G</text>
<text x="396.4" y="1774.3" class="at" text-anchor="middle" style="font-size:25.00px">Storage days</text>
<text transform="translate(20.90 1460.35) rotate(-90)" class="at" text-anchor="middle" style="font-size:26.3px" textLength="361" lengthAdjust="spacing">Endogenous proline accumulation</text>
<text transform="translate(55.00 1460.20) rotate(-90)" class="at" text-anchor="middle" >(mg kg<tspan dy="-10.7" font-size="17.3">-1</tspan><tspan dy="10.7">)</tspan></text>
</svg>
</body></html>
